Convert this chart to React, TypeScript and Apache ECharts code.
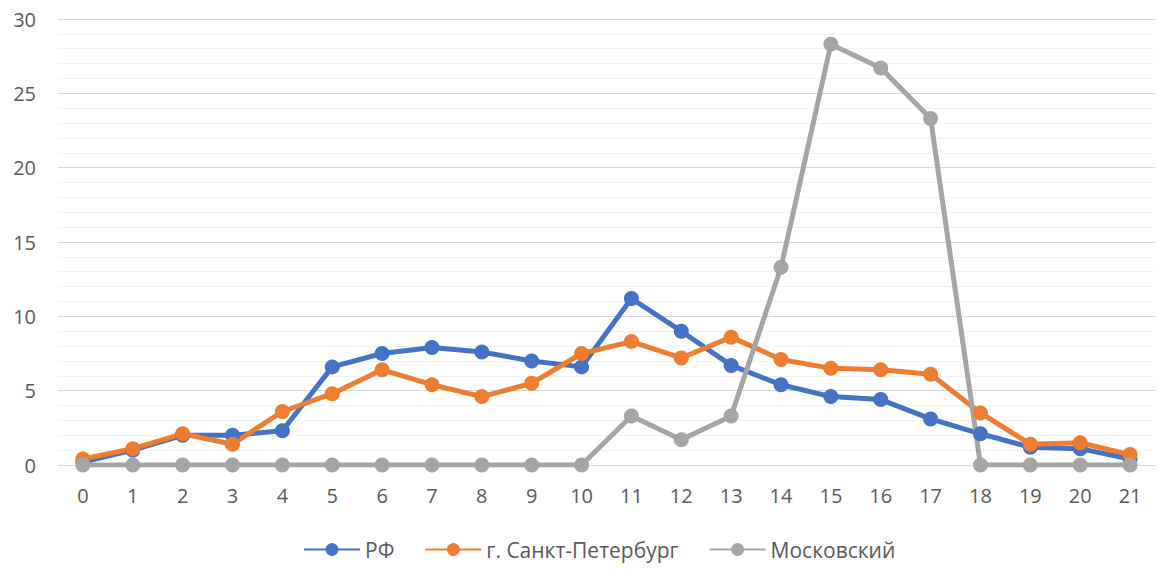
import React, { useEffect, useRef } from "react";
import * as echarts from "echarts";

const categories = ["0","1","2","3","4","5","6","7","8","9","10","11","12","13","14","15","16","17","18","19","20","21"];
const rfValues = [0.2, 1.0, 2.0, 2.0, 2.3, 6.6, 7.5, 7.9, 7.6, 7.0, 6.6, 11.2, 9.0, 6.7, 5.4, 4.6, 4.4, 3.1, 2.1, 1.2, 1.1, 0.4];
const spbValues = [0.4, 1.1, 2.1, 1.4, 3.6, 4.8, 6.4, 5.4, 4.6, 5.5, 7.5, 8.3, 7.2, 8.6, 7.1, 6.5, 6.4, 6.1, 3.5, 1.4, 1.5, 0.7];
const moscowValues = [0, 0, 0, 0, 0, 0, 0, 0, 0, 0, 0, 3.3, 1.7, 3.3, 13.3, 28.3, 26.7, 23.3, 0, 0, 0, 0];
const seriesNames = ["РФ", "г. Санкт-Петербург", "Московский"];
const colors = ["#4472C4", "#ED7D31", "#A5A5A5"];

export default function App() {
  const ref = useRef<HTMLDivElement>(null);
  useEffect(() => {
    const chart = echarts.init(ref.current!, null, { renderer: "svg" });
    const font = "'Open Sans', 'Noto Sans', sans-serif";
    const mk = (name: string, data: number[], color: string) => ({
      name,
      type: "line",
      data,
      symbol: "circle",
      symbolSize: 15,
      lineStyle: { width: 5, color },
      itemStyle: { color },
    });
    chart.setOption({
      animation: false,
      textStyle: { fontFamily: font },
      grid: { left: 58, right: 4, top: 19, bottom: 105 },
      legend: {
        top: 534,
        left: 298,
        itemWidth: 56,
        itemHeight: 16,
        itemGap: 30,
        textStyle: { color: "#595959", fontSize: 21, fontFamily: font },
        data: seriesNames,
      },
      xAxis: {
        type: "category",
        data: categories,
        boundaryGap: true,
        axisLine: { lineStyle: { color: "#D9D9D9", width: 1 } },
        axisTick: { show: false },
        axisLabel: { color: "#595959", fontSize: 20, margin: 20 },
      },
      yAxis: {
        type: "value",
        min: 0,
        max: 30,
        interval: 5,
        axisLabel: { color: "#595959", fontSize: 20, margin: 22 },
        axisLine: { show: false },
        axisTick: { show: false },
        splitLine: { lineStyle: { color: "#D9D9D9", width: 1 } },
        minorTick: { show: false, splitNumber: 5 },
        minorSplitLine: { show: true, lineStyle: { color: "#F2F2F2", width: 1 } },
      },
      series: [
        mk(seriesNames[0], rfValues, colors[0]),
        mk(seriesNames[1], spbValues, colors[1]),
        mk(seriesNames[2], moscowValues, colors[2]),
      ],
    });
    return () => chart.dispose();
  }, []);
  return <div ref={ref} style={{ width: 1159, height: 570, position: "absolute", left: 0, top: 0 }} />;
}
